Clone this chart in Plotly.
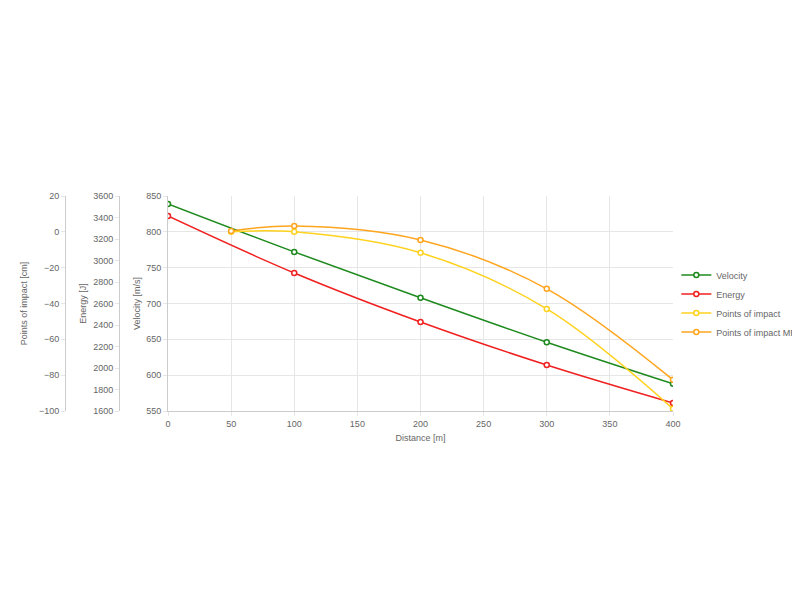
import plotly.graph_objects as go

distance = [0, 100, 200, 300, 400]
velocity = [839, 772, 708, 646, 588]
energy = [3414, 2884, 2428, 2028, 1675]
poi_dist = [50, 100, 200, 300, 400]
poi = [0, 0, -11.7, -43, -98.8]
poi_mrd = [0.5, 3.3, -4.5, -31.8, -82.6]

font = dict(family="Liberation Sans, Arial", size=9, color="#666")
mk = dict(size=5, color="white", line=dict(width=1.5))

fig = go.Figure()
fig.add_trace(go.Scatter(x=distance, y=velocity, name="Velocity", mode="lines+markers",
                         line=dict(color="#1e8a1e", width=1.5, shape="spline"),
                         marker=dict(mk, line=dict(color="#1e8a1e", width=1.5))))
fig.add_trace(go.Scatter(x=distance, y=energy, name="Energy", mode="lines+markers", yaxis="y2",
                         line=dict(color="#f02020", width=1.5, shape="spline"),
                         marker=dict(mk, line=dict(color="#f02020", width=1.5))))
fig.add_trace(go.Scatter(x=poi_dist, y=poi, name="Points of impact", mode="lines+markers", yaxis="y3",
                         line=dict(color="#ffd21e", width=1.5, shape="spline"),
                         marker=dict(mk, line=dict(color="#ffd21e", width=1.5))))
fig.add_trace(go.Scatter(x=poi_dist, y=poi_mrd, name="Points of impact MRD", mode="lines+markers", yaxis="y4",
                         line=dict(color="#ffa51e", width=1.5, shape="spline"),
                         marker=dict(mk, line=dict(color="#ffa51e", width=1.5))))

ax = dict(showline=True, linecolor="#ccc", gridcolor="#e6e6e6", zeroline=False, automargin=False,
          tickfont=font, ticks="outside", ticklen=4, tickcolor="#e6e6e6")
W = 665.0
fig.update_layout(
    width=800, height=600, plot_bgcolor="white", paper_bgcolor="white",
    margin=dict(l=0, r=135, t=188, b=197, autoexpand=False), font=font,
    xaxis=dict(ax, domain=[160 / W, 1], range=[0, 400], dtick=50,
               title=dict(text="Distance [m]", font=font, standoff=6)),
    yaxis=dict(ax, range=[550, 850], dtick=50,
               title=dict(text="Velocity [m/s]", font=font, standoff=4)),
    yaxis2=dict(ax, overlaying="y", anchor="free", side="left", position=111 / W,
                range=[1600, 3600], dtick=200, showgrid=False,
                title=dict(text="Energy [J]", font=font, standoff=4)),
    yaxis3=dict(ax, overlaying="y", anchor="free", side="left", position=57 / W,
                range=[-100, 20], dtick=20, showgrid=False,
                title=dict(text="Points of impact [cm]", font=font, standoff=8)),
    yaxis4=dict(overlaying="y", range=[-100, 20], visible=False),
    legend=dict(x=1.005, y=0.5, yanchor="middle", font=font, itemwidth=30,
                tracegroupgap=2),
    showlegend=True,
)
fig.write_html("out.html")
